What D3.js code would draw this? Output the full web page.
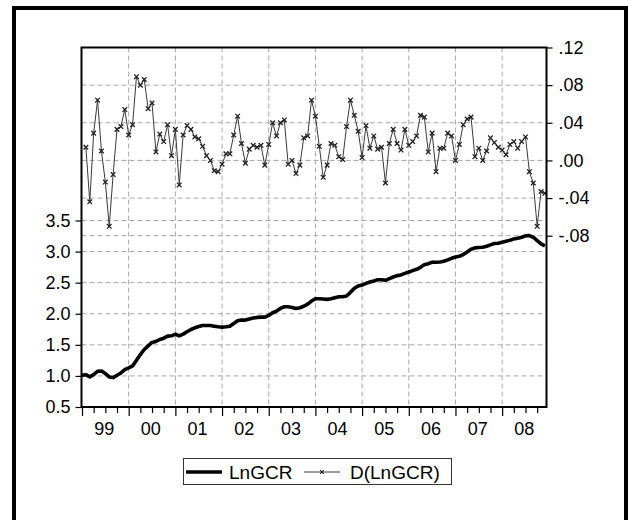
<!DOCTYPE html>
<html>
<head>
<meta charset="utf-8">
<script src="https://cdn.jsdelivr.net/npm/d3@7"></script>
<style>
    body { margin: 0; background: #fff; }
    svg { display: block; font-family: "Liberation Sans", Arial, sans-serif; }
    .grid { stroke: #a8a8a8; stroke-width: 1; stroke-dasharray: 5,3; fill: none; }
    .axis path { display: none; }
    .axis line { stroke: #000; stroke-width: 1.2; }
    .axis text { font-size: 18px; fill: #000; }
</style>
</head>
<body>
<script>
//monthly observations, 1999M01 - 2008M12
var lnGCR = [
    1.011, 1.020, 0.984, 1.020, 1.075, 1.080, 1.038, 0.984, 0.973, 1.011, 1.048, 1.100,
    1.129, 1.161, 1.253, 1.344, 1.425, 1.484, 1.538, 1.554, 1.586, 1.607, 1.640, 1.645,
    1.672, 1.645, 1.672, 1.710, 1.747, 1.774, 1.796, 1.810, 1.810, 1.810, 1.800, 1.790,
    1.785, 1.790, 1.800, 1.844, 1.887, 1.898, 1.898, 1.914, 1.930, 1.941, 1.946, 1.946,
    1.973, 2.016, 2.043, 2.086, 2.113, 2.113, 2.102, 2.086, 2.097, 2.120, 2.155, 2.204,
    2.242, 2.242, 2.237, 2.231, 2.242, 2.258, 2.274, 2.274, 2.285, 2.344, 2.409, 2.446,
    2.462, 2.489, 2.511, 2.527, 2.548, 2.548, 2.538, 2.565, 2.591, 2.613, 2.624, 2.650,
    2.672, 2.694, 2.715, 2.747, 2.790, 2.806, 2.828, 2.828, 2.833, 2.844, 2.866, 2.892,
    2.914, 2.925, 2.952, 2.995, 3.038, 3.059, 3.065, 3.070, 3.086, 3.108, 3.129, 3.134,
    3.151, 3.167, 3.183, 3.204, 3.215, 3.231, 3.253, 3.258, 3.231, 3.177, 3.124, 3.091
];

//first difference, starts at 1999M02
var dLnGCR = [
           0.014, -0.044, 0.029, 0.064, 0.010, -0.023, -0.070, -0.015, 0.033, 0.036, 0.054,
    0.027, 0.038, 0.089, 0.080, 0.086, 0.055, 0.061, 0.009, 0.028, 0.020, 0.038, 0.005,
    0.033, -0.026, 0.027, 0.037, 0.033, 0.025, 0.023, 0.015, 0.005, 0.000, -0.011, -0.012,
    -0.004, 0.007, 0.007, 0.027, 0.047, 0.018, -0.003, 0.012, 0.016, 0.014, 0.016, -0.005,
    0.017, 0.040, 0.026, 0.040, 0.043, -0.004, 0.000, -0.014, -0.005, 0.024, 0.026, 0.064,
    0.047, 0.015, -0.018, -0.005, 0.018, 0.016, 0.004, 0.001, 0.036, 0.064, 0.048, 0.031,
    0.003, 0.037, 0.013, 0.026, 0.012, 0.014, -0.024, 0.018, 0.033, 0.018, 0.011, 0.033,
    0.016, 0.020, 0.026, 0.048, 0.046, 0.009, 0.029, -0.012, 0.013, 0.013, 0.029, 0.026,
    0.000, 0.017, 0.038, 0.044, 0.046, 0.004, 0.013, 0.000, 0.010, 0.024, 0.019, 0.014,
    0.011, 0.006, 0.017, 0.020, 0.013, 0.020, 0.025, -0.012, -0.024, -0.070, -0.033, -0.035
];

var yearLabels = ["99", "00", "01", "02", "03", "04", "05", "06", "07", "08"];
var leftTicks = [0.5, 1.0, 1.5, 2.0, 2.5, 3.0, 3.5];
var rightTicks = [-0.08, -0.04, 0.00, 0.04, 0.08, 0.12];
var legendNames = ["LnGCR", "D(LnGCR)"];

(function(){

    window.onload = setChart();

function setChart(){
    var width = 628, height = 520;
    var left = 81.5, right = 546.5, top = 47.5, bottom = 407;

    var svg = d3.select("body")
        .append("svg")
        .attr("width", width)
        .attr("height", height);

    svg.append("rect")
        .attr("width", width)
        .attr("height", height)
        .attr("fill", "#fff");

    //outer border
    svg.append("rect")
        .attr("x", 14)
        .attr("y", 8)
        .attr("width", 612)
        .attr("height", 540)
        .attr("fill", "none")
        .attr("stroke", "#000")
        .attr("stroke-width", 4);

    //scales: month index on x, two value axes
    var x = d3.scaleLinear()
        .domain([0, lnGCR.length - 0.6])
        .range([left + 0.5, right]);

    var yL = d3.scaleLinear()
        .domain([0.5, 3.5])
        .range([bottom, 220.5]);

    var yR = d3.scaleLinear()
        .domain([-0.08, 0.12])
        .range([235.7, top]);

    //grid lines
    var yearStarts = d3.range(1, yearLabels.length).map(function(i){ return i * 12; });

    svg.selectAll(".vgrid")
        .data(yearStarts)
        .enter()
        .append("line")
        .attr("class", "grid")
        .attr("x1", d => x(d)).attr("x2", d => x(d))
        .attr("y1", top).attr("y2", bottom);

    svg.selectAll(".hgridL")
        .data(leftTicks.slice(1))
        .enter()
        .append("line")
        .attr("class", "grid")
        .attr("x1", left).attr("x2", right)
        .attr("y1", d => yL(d)).attr("y2", d => yL(d));

    svg.selectAll(".hgridR")
        .data(rightTicks.slice(0, -1))
        .enter()
        .append("line")
        .attr("class", "grid")
        .attr("x1", left).attr("x2", right)
        .attr("y1", d => yR(d)).attr("y2", d => yR(d));

    //D(LnGCR) line with x markers
    var dLine = d3.line()
        .x(function(d, i){ return x(i + 1); })
        .y(function(d){ return yR(d); });

    svg.append("path")
        .datum(dLnGCR)
        .attr("d", dLine)
        .attr("fill", "none")
        .attr("stroke", "#3a3a3a")
        .attr("stroke-width", 1);

    var s = 2.3;
    svg.selectAll(".mark")
        .data(dLnGCR)
        .enter()
        .append("path")
        .attr("class", "mark")
        .attr("d", function(d, i){
            var cx = x(i + 1), cy = yR(d);
            return "M" + (cx - s) + "," + (cy - s) + "L" + (cx + s) + "," + (cy + s) +
                "M" + (cx - s) + "," + (cy + s) + "L" + (cx + s) + "," + (cy - s);
        })
        .attr("stroke", "#222")
        .attr("stroke-width", 1.3)
        .attr("fill", "none");

    //LnGCR thick line
    var lnLine = d3.line()
        .x(function(d, i){ return x(i); })
        .y(function(d){ return yL(d); });

    svg.append("path")
        .datum(lnGCR)
        .attr("d", lnLine)
        .attr("fill", "none")
        .attr("stroke", "#000")
        .attr("stroke-width", 3.6)
        .attr("stroke-linejoin", "round");

    //axes
    svg.append("g")
        .attr("class", "axis")
        .attr("transform", "translate(" + left + ",0)")
        .call(d3.axisLeft(yL)
            .tickValues(leftTicks)
            .tickSize(6)
            .tickPadding(5)
            .tickFormat(d3.format(".1f")));

    //EViews style: hyphen minus and no leading zero
    var fmtR = d3.formatLocale({decimal: ".", thousands: ",", grouping: [3], currency: ["", ""], minus: "-"}).format(".2f");

    svg.append("g")
        .attr("class", "axis")
        .attr("transform", "translate(" + right + ",0)")
        .call(d3.axisRight(yR)
            .tickValues(rightTicks)
            .tickSize(6)
            .tickPadding(6)
            .tickFormat(function(d){
                return fmtR(d).replace("0.", ".");
            }));

    var quarters = d3.range(0, lnGCR.length, 3);
    var xAxis = svg.append("g")
        .attr("class", "axis")
        .attr("transform", "translate(0," + bottom + ")")
        .call(d3.axisBottom(x)
            .tickValues(quarters)
            .tickSize(6)
            .tickFormat(""));

    xAxis.selectAll(".tick line")
        .attr("y2", function(d){ return d % 12 == 0 ? 9 : 6; });

    svg.selectAll(".year")
        .data(yearLabels)
        .enter()
        .append("text")
        .attr("x", function(d, i){ return x(i * 12 + 5.7); })
        .attr("y", 435)
        .attr("text-anchor", "middle")
        .style("font-size", "18px")
        .text(d => d);

    //plot frame
    svg.append("rect")
        .attr("x", left)
        .attr("y", top)
        .attr("width", right - left)
        .attr("height", bottom - top)
        .attr("fill", "none")
        .attr("stroke", "#000")
        .attr("stroke-width", 2);

    setLegend(svg);
};

function setLegend(svg){
    var legend = svg.append("g");
    var cy = 472;

    legend.append("rect")
        .attr("x", 183.5)
        .attr("y", 458.5)
        .attr("width", 268)
        .attr("height", 26)
        .attr("fill", "#fff")
        .attr("stroke", "#333")
        .attr("stroke-width", 1);

    legend.append("line")
        .attr("x1", 186).attr("x2", 222)
        .attr("y1", cy).attr("y2", cy)
        .attr("stroke", "#000")
        .attr("stroke-width", 3.6);

    legend.append("line")
        .attr("x1", 304).attr("x2", 340)
        .attr("y1", cy).attr("y2", cy)
        .attr("stroke", "#3a3a3a")
        .attr("stroke-width", 1);

    var s = 1.8, mx = 322;
    legend.append("path")
        .attr("d", "M" + (mx - s) + "," + (cy - s) + "L" + (mx + s) + "," + (cy + s) +
            "M" + (mx - s) + "," + (cy + s) + "L" + (mx + s) + "," + (cy - s))
        .attr("stroke", "#222")
        .attr("stroke-width", 1.1);

    legend.selectAll(".ltext")
        .data(legendNames)
        .enter()
        .append("text")
        .attr("x", function(d, i){ return i == 0 ? 229 : 350; })
        .attr("y", cy + 6.8)
        .style("font-size", "19px")
        .text(d => d);
};

})();
</script>
</body>
</html>
